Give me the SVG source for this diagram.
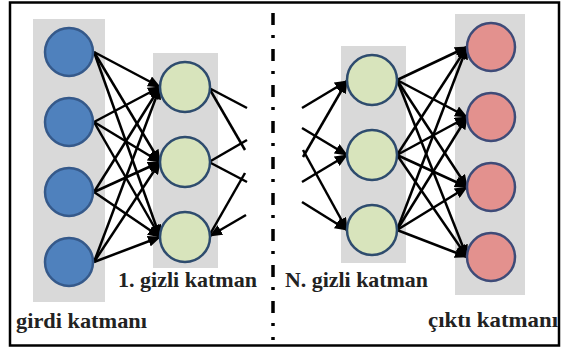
<svg xmlns="http://www.w3.org/2000/svg" width="562" height="351" viewBox="0 0 562 351">
<style>
.band{fill:#d9d9d9}
.in{fill:#4f81bd;stroke:#35598a;stroke-width:2.5}
.hid{fill:#d8e4bc;stroke:#2e4c6e;stroke-width:2.5}
.out{fill:#e3918e;stroke:#3e4b78;stroke-width:2.5}
.c line{stroke:#000;stroke-width:2.5}
.a{marker-end:url(#arr)}
.lbl{font-family:"Liberation Serif","Times New Roman",serif;font-weight:bold;font-size:21px;fill:#222}
</style>
<defs>
<marker id="arr" viewBox="0 0 13 11" refX="12" refY="5.5" markerWidth="13" markerHeight="11" markerUnits="userSpaceOnUse" orient="auto">
<path d="M0,0 L13,5.5 L0,11 z" fill="#000"/>
</marker>
</defs>
<rect x="0" y="0" width="562" height="351" fill="#fff"/>
<rect x="10" y="2.5" width="549" height="343" fill="none" stroke="#000" stroke-width="2.5"/>
<line x1="273" y1="13" x2="273" y2="340" stroke="#000" stroke-width="3.5" stroke-dasharray="12 10 3 11"/>
<g id="layer-bands">
<rect class="band" x="33" y="19" width="72" height="283"/>
<rect class="band" x="153" y="53" width="65" height="215"/>
<rect class="band" x="341" y="46" width="65" height="217"/>
<rect class="band" x="455" y="14" width="70" height="281"/>
</g>
<g id="connectors" class="c">
<line class="a" x1="94" y1="52" x2="160" y2="87"/>
<line class="a" x1="94" y1="52" x2="160" y2="162"/>
<line class="a" x1="94" y1="52" x2="160" y2="237"/>
<line class="a" x1="94" y1="122" x2="160" y2="87"/>
<line class="a" x1="94" y1="122" x2="160" y2="162"/>
<line class="a" x1="94" y1="122" x2="160" y2="237"/>
<line class="a" x1="94" y1="192" x2="160" y2="87"/>
<line class="a" x1="94" y1="192" x2="160" y2="162"/>
<line class="a" x1="94" y1="192" x2="160" y2="237"/>
<line class="a" x1="94" y1="262" x2="160" y2="87"/>
<line class="a" x1="94" y1="262" x2="160" y2="162"/>
<line class="a" x1="94" y1="262" x2="160" y2="237"/>
<line x1="209" y1="88" x2="247" y2="108"/>
<line x1="209" y1="88" x2="245" y2="150"/>
<line x1="209" y1="162" x2="247" y2="140"/>
<line x1="209" y1="162" x2="247" y2="182"/>
<line x1="209" y1="236" x2="245" y2="173"/>
<line class="a" x1="246" y1="215" x2="210" y2="236"/>
<line class="a" x1="302" y1="108" x2="347" y2="81"/>
<line class="a" x1="303" y1="157" x2="347" y2="81"/>
<line class="a" x1="302" y1="128" x2="347" y2="155"/>
<line class="a" x1="302" y1="182" x2="347" y2="155"/>
<line class="a" x1="303" y1="150" x2="347" y2="230"/>
<line class="a" x1="302" y1="202" x2="347" y2="230"/>
<line class="a" x1="397" y1="80" x2="467" y2="47"/>
<line class="a" x1="397" y1="80" x2="467" y2="117"/>
<line class="a" x1="397" y1="80" x2="467" y2="187"/>
<line class="a" x1="397" y1="80" x2="467" y2="257"/>
<line class="a" x1="397" y1="155" x2="467" y2="47"/>
<line class="a" x1="397" y1="155" x2="467" y2="117"/>
<line class="a" x1="397" y1="155" x2="467" y2="187"/>
<line class="a" x1="397" y1="155" x2="467" y2="257"/>
<line class="a" x1="397" y1="230" x2="467" y2="47"/>
<line class="a" x1="397" y1="230" x2="467" y2="117"/>
<line class="a" x1="397" y1="230" x2="467" y2="187"/>
<line class="a" x1="397" y1="230" x2="467" y2="257"/>
</g>
<g id="input-1"><circle class="in" cx="69" cy="52" r="24"/></g>
<g id="input-2"><circle class="in" cx="69" cy="122" r="24"/></g>
<g id="input-3"><circle class="in" cx="69" cy="192" r="24"/></g>
<g id="input-4"><circle class="in" cx="69" cy="262" r="24"/></g>
<g id="hidden1-1"><circle class="hid" cx="185" cy="87" r="25"/></g>
<g id="hidden1-2"><circle class="hid" cx="185" cy="162" r="25"/></g>
<g id="hidden1-3"><circle class="hid" cx="185" cy="237" r="25"/></g>
<g id="hiddenN-1"><circle class="hid" cx="372" cy="80" r="25"/></g>
<g id="hiddenN-2"><circle class="hid" cx="372" cy="155" r="25"/></g>
<g id="hiddenN-3"><circle class="hid" cx="372" cy="230" r="25"/></g>
<g id="output-1"><circle class="out" cx="491" cy="47" r="24"/></g>
<g id="output-2"><circle class="out" cx="491" cy="117" r="24"/></g>
<g id="output-3"><circle class="out" cx="491" cy="187" r="24"/></g>
<g id="output-4"><circle class="out" cx="491" cy="257" r="24"/></g>
<g id="labels">
<text class="lbl" x="118" y="287" textLength="139" lengthAdjust="spacingAndGlyphs">1. gizli katman</text>
<text class="lbl" x="16" y="328" textLength="131" lengthAdjust="spacingAndGlyphs">girdi katmanı</text>
<text class="lbl" x="285" y="287" textLength="143" lengthAdjust="spacingAndGlyphs">N. gizli katman</text>
<text class="lbl" x="428" y="327" textLength="130" lengthAdjust="spacingAndGlyphs">çıktı katmanı</text>
</g>
</svg>
